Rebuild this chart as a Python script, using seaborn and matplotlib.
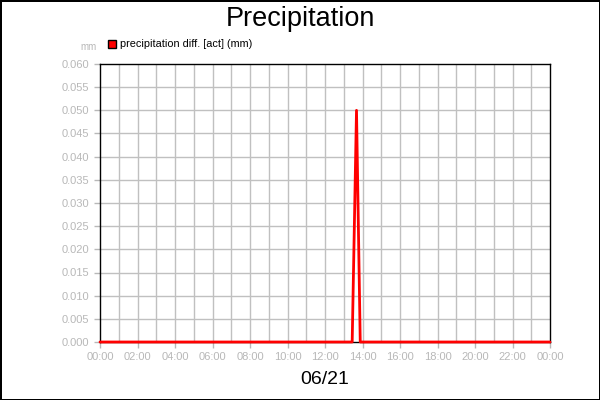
import numpy as np
import pandas as pd
import matplotlib.pyplot as plt
import seaborn as sns

# Hours of the day and precipitation difference (mm)
hours = [0.0, 13.45, 13.68, 13.88, 24.0]
precip = [0.0, 0.0, 0.050, 0.0, 0.0]
hour_ticks = [0, 2, 4, 6, 8, 10, 12, 14, 16, 18, 20, 22, 24]
hour_labels = ["00:00", "02:00", "04:00", "06:00", "08:00", "10:00", "12:00",
               "14:00", "16:00", "18:00", "20:00", "22:00", "00:00"]
y_ticks = [0.000, 0.005, 0.010, 0.015, 0.020, 0.025, 0.030,
           0.035, 0.040, 0.045, 0.050, 0.055, 0.060]

sns.set_style("white")
plt.rcParams['font.family'] = ['Liberation Sans', 'DejaVu Sans']
plt.rcParams['text.color'] = 'black'

df = pd.DataFrame({"hour": hours, "precip": precip})

fig = plt.figure(figsize=(6, 4), dpi=100)
ax = fig.add_axes([100 / 600, 1 - 342 / 400, 450 / 600, 278 / 400])

# Grid every hour / every 0.005 mm
for h in range(1, 24):
    ax.axvline(h, color="#c0c0c0", lw=1, zorder=0)
for y in y_ticks[1:-1]:
    ax.axhline(y, color="#c0c0c0", lw=1, zorder=0)

sns.lineplot(data=df, x="hour", y="precip", color="#ff0000", lw=2,
             ax=ax, legend=False, zorder=3, clip_on=False)

ax.set_xlim(0, 24)
ax.set_ylim(0, 0.060)
ax.set_xticks(hour_ticks)
ax.set_xticklabels(hour_labels)
ax.set_yticks(y_ticks)
ax.set_yticklabels([f"{v:.3f}" for v in y_ticks])
ax.tick_params(axis="both", colors="#b8b8b8", labelsize=8, length=4, width=1,
               direction="out", bottom=True, left=True)
ax.tick_params(axis="x", pad=3)
for s in ax.spines.values():
    s.set_color("black")
    s.set_linewidth(1)
    s.set_visible(True)

ax.set_xlabel("06/21", fontsize=14, color="black", labelpad=7)
ax.set_ylabel("")

fig.text(0.5, 0.953, "Precipitation", ha="center", va="center", fontsize=19.5,
         color="black")
fig.text(89 / 600, 1 - 47 / 400, "mm", ha="center", va="center",
         fontsize=7, color="#b8b8b8")

# Legend box
fig.patches.append(plt.Rectangle((108 / 600, 1 - 48 / 400), 8 / 600, 8 / 400,
                                 transform=fig.transFigure, facecolor="#ff0000",
                                 edgecolor="black", lw=1))
fig.text(120 / 600, 1 - 44 / 400, "precipitation diff. [act] (mm)",
         ha="left", va="center", fontsize=7.8, color="black")

# Outer border
fig.patch.set_edgecolor("black")
fig.patch.set_linewidth(2)

fig.savefig("out.png", dpi=100, edgecolor=fig.get_edgecolor())
